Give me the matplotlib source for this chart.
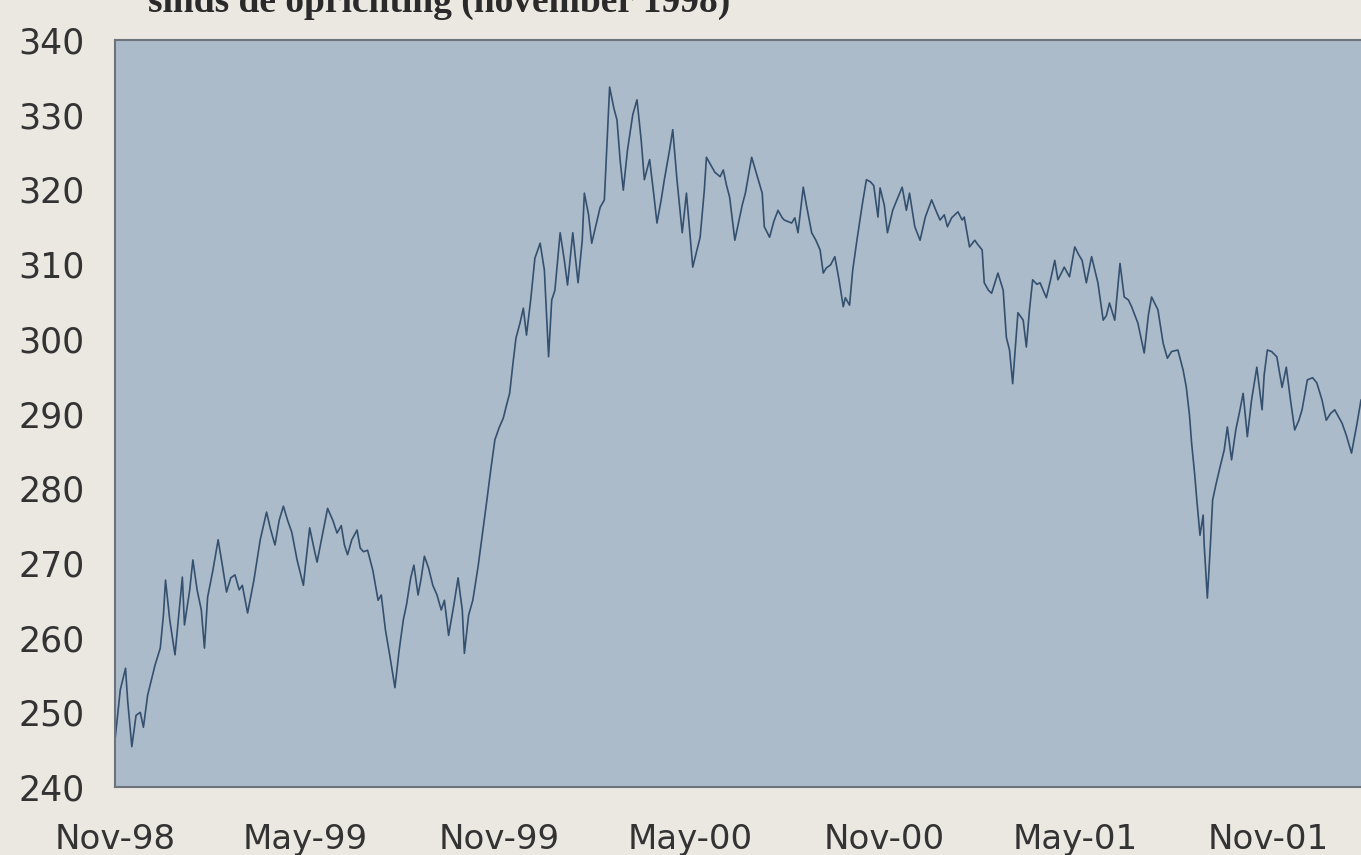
import matplotlib
matplotlib.use("Agg")
import matplotlib.pyplot as plt
import pandas as pd

# ---- data ----
start_date = "1998-11-01"
# days since start of the series
days = [0, 5, 10, 12, 16, 20, 24, 27, 31, 38, 43, 46, 48, 52, 57, 61, 64, 66, 71, 74,
        78, 82, 85, 88, 93, 98, 102, 106, 110, 114, 118, 121, 126, 132, 138, 144, 148, 152, 156, 160,
        164, 168, 173, 179, 181, 185, 189, 192, 197, 202, 207, 211, 215, 218, 221, 225, 230, 233, 236, 240,
        245, 250, 253, 257, 261, 266, 270, 274, 277, 281, 284, 288, 291, 294, 298, 302, 306, 310, 313, 317,
        322, 326, 330, 332, 336, 340, 345, 349, 353, 357, 361, 365, 369, 372, 375, 378, 381, 385, 388, 391,
        395, 399, 404, 408, 412, 415, 418, 423, 427, 430, 435, 440, 444, 446, 450, 453, 457, 461, 465, 470,
        474, 477, 480, 483, 487, 492, 496, 500, 503, 508, 512, 515, 519, 522, 527, 530, 534, 539, 543, 546,
        549, 553, 556, 560, 562, 566, 570, 575, 578, 581, 584, 589, 592, 596, 599, 605, 610, 615, 617, 622,
        626, 630, 634, 636, 643, 646, 649, 654, 657, 662, 666, 670, 673, 676, 680, 684, 688, 692, 694, 698,
        701, 705, 710, 714, 718, 721, 725, 727, 731, 734, 739, 743, 748, 752, 755, 760, 765, 770, 776, 780,
        784, 788, 791, 795, 801, 805, 807, 812, 817, 820, 824, 826, 830, 833, 839, 844, 847, 850, 853, 858,
        863, 866, 869, 872, 876, 879, 885, 889, 893, 896, 900, 902, 907, 912, 916, 919, 923, 928, 934, 939,
        942, 945, 950, 955, 959, 963, 966, 972, 975, 978, 982, 985, 991, 996, 1000, 1004, 1010, 1015, 1018, 1021,
        1023, 1026, 1028, 1031, 1034, 1035, 1038, 1041, 1043, 1046, 1050, 1054, 1057, 1061, 1065, 1069, 1072, 1076, 1080, 1085,
        1090, 1092, 1095, 1099, 1104, 1109, 1113, 1117, 1121, 1125, 1128, 1133, 1138, 1142, 1147, 1151, 1155, 1159, 1166, 1170,
        1175, 1180, 1184]
values = [246.3, 253.0, 255.9, 251.6, 245.4, 249.6, 250.0, 248.0, 252.3, 256.3, 258.6, 263.0, 267.7, 262.4, 257.7, 263.7, 268.1, 261.7, 266.4, 270.4,
          266.4, 263.7, 258.6, 265.4, 269.0, 273.1, 269.7, 266.1, 268.0, 268.4, 266.4, 267.0, 263.3, 267.7, 273.1, 276.8, 274.4, 272.4, 275.7, 277.6,
          275.7, 274.1, 270.4, 267.0, 269.7, 274.7, 272.0, 270.1, 273.7, 277.3, 275.7, 274.0, 275.0, 272.4, 271.1, 273.1, 274.4, 272.0, 271.5, 271.7,
          269.0, 265.0, 265.7, 261.0, 257.7, 253.3, 258.3, 262.4, 264.4, 268.0, 269.7, 265.7, 268.0, 270.9, 269.3, 267.0, 265.7, 263.7, 265.0, 260.3,
          264.4, 268.0, 263.7, 257.9, 263.0, 265.0, 269.5, 273.7, 278.0, 282.4, 286.5, 288.1, 289.4, 291.1, 292.7, 296.5, 300.1, 302.2, 304.1, 300.5,
          305.2, 310.8, 312.8, 309.2, 297.6, 305.2, 306.5, 314.2, 310.5, 307.2, 314.2, 307.5, 313.2, 319.5, 316.6, 312.8, 315.2, 317.6, 318.6, 333.7,
          330.9, 329.3, 323.9, 319.9, 325.3, 330.0, 332.0, 326.6, 321.3, 324.0, 319.3, 315.5, 318.6, 321.3, 325.3, 328.0, 321.3, 314.2, 319.5, 314.6,
          309.6, 311.9, 313.6, 319.9, 324.3, 323.3, 322.3, 321.7, 322.6, 320.6, 319.0, 313.2, 315.2, 317.9, 319.5, 324.3, 321.9, 319.5, 315.0, 313.6,
          315.7, 317.2, 316.2, 315.9, 315.5, 316.2, 314.2, 320.3, 317.9, 314.2, 313.2, 311.9, 308.8, 309.5, 309.9, 311.0, 307.9, 304.3, 305.5, 304.5,
          309.2, 313.2, 317.9, 321.3, 321.0, 320.5, 316.3, 320.2, 317.9, 314.2, 317.2, 318.6, 320.3, 317.2, 319.5, 315.0, 313.2, 316.3, 318.6, 317.2,
          315.9, 316.6, 315.0, 316.2, 317.0, 315.9, 316.3, 312.3, 313.2, 312.6, 311.9, 307.5, 306.5, 306.1, 308.8, 306.5, 300.2, 298.5, 294.0, 303.5,
          302.5, 298.9, 303.9, 307.9, 307.3, 307.5, 305.5, 307.9, 310.5, 307.9, 309.0, 309.6, 308.3, 312.3, 311.2, 310.5, 307.5, 311.0, 307.5, 302.5,
          303.1, 304.8, 302.5, 310.1, 305.6, 305.2, 304.3, 302.1, 300.1, 298.1, 303.2, 305.6, 303.9, 299.4, 297.4, 298.3, 298.5, 295.8, 293.5, 289.8,
          286.1, 281.8, 278.4, 273.7, 276.4, 272.4, 265.3, 272.7, 278.4, 280.4, 282.8, 285.1, 288.2, 283.8, 287.8, 290.5, 292.7, 286.9, 291.8, 296.2,
          290.5, 295.2, 298.5, 298.3, 297.6, 293.5, 296.2, 291.8, 287.8, 289.1, 290.5, 294.5, 294.8, 294.1, 291.8, 289.1, 290.0, 290.5, 288.7, 287.1,
          284.7, 288.5, 291.8]
tick_dates = ["1998-11-01", "1999-05-01", "1999-11-01", "2000-05-01", "2000-11-01", "2001-05-01", "2001-11-01"]
tick_labels = ["Nov-98", "May-99", "Nov-99", "May-00", "Nov-00", "May-01", "Nov-01"]
y_ticks = [240, 250, 260, 270, 280, 290, 300, 310, 320, 330, 340]
title = "sinds de oprichting (november 1998)"

# ---- figure ----
dates = pd.Timestamp(start_date) + pd.to_timedelta(days, unit="D")

fig = plt.figure(figsize=(13.61, 8.55), dpi=100, facecolor="#ebe8e2")
ax = fig.add_axes([0.0845, 0.0795, 0.9155, 0.8737])
ax.set_facecolor("#acbbca")
ax.plot(dates, values, color="#34506f", linewidth=1.2)

ax.set_ylim(240, 340)
ax.set_yticks(y_ticks)
ax.set_xlim(dates[0], dates[-1])
ax.set_xticks(pd.to_datetime(tick_dates))
ax.set_xticklabels(tick_labels)

for side in ["top", "left", "bottom"]:
    ax.spines[side].set_color("#6d737a")
    ax.spines[side].set_linewidth(1.5)
ax.spines["right"].set_visible(False)

ax.tick_params(axis="both", length=0, colors="#333333")
ax.tick_params(axis="y", pad=22, labelsize=25)
ax.tick_params(axis="x", pad=26, labelsize=24.5)
for lab in ax.get_yticklabels() + ax.get_xticklabels():
    lab.set_family("DejaVu Sans")

fig.text(148 / 1361, 1 - 12 / 855, title, fontsize=27, fontweight="bold",
         family="Liberation Serif", color="#2a2a2a", ha="left", va="baseline")

fig.savefig("out.png", dpi=100, facecolor=fig.get_facecolor())
